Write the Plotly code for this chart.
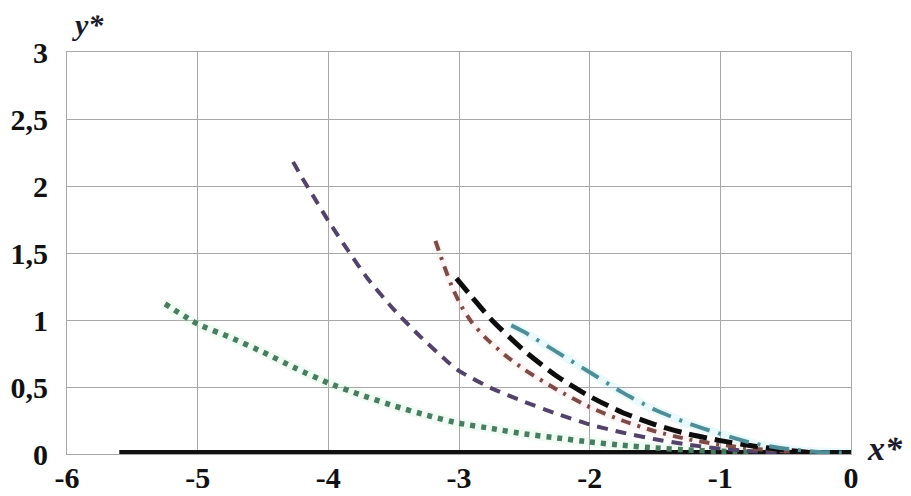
import plotly.graph_objects as go

# ---- data ----
green_x = [-5.25, -5.0, -4.75, -4.5, -4.25, -4.0, -3.75, -3.5, -3.25, -3.0, -2.75, -2.5,
           -2.25, -2.0, -1.75, -1.5, -1.25, -1.0, -0.75]
green_y = [1.12, 0.97, 0.87, 0.76, 0.64, 0.53, 0.44, 0.36, 0.29, 0.23, 0.19, 0.15,
           0.12, 0.09, 0.065, 0.045, 0.03, 0.02, 0.012]

purple_x = [-4.27, -4.2, -4.1, -4.0, -3.85, -3.7, -3.5, -3.3, -3.1, -3.0, -2.75, -2.5,
            -2.25, -2.0, -1.75, -1.5, -1.25, -1.0, -0.75, -0.5]
purple_y = [2.18, 2.06, 1.90, 1.74, 1.52, 1.31, 1.08, 0.88, 0.70, 0.62, 0.49, 0.39,
            0.30, 0.22, 0.16, 0.11, 0.07, 0.04, 0.02, 0.01]

red_x = [-3.18, -3.12, -3.05, -2.98, -2.9, -2.8, -2.65, -2.5, -2.25, -2.0, -1.75, -1.5,
         -1.25, -1.0, -0.75, -0.5, -0.3]
red_y = [1.59, 1.42, 1.24, 1.10, 0.98, 0.87, 0.74, 0.63, 0.48, 0.35, 0.25, 0.17,
         0.11, 0.07, 0.04, 0.02, 0.01]

black_x = [-3.02, -2.9, -2.75, -2.5, -2.25, -2.0, -1.75, -1.5, -1.25, -1.0, -0.75, -0.5, -0.3]
black_y = [1.31, 1.17, 1.00, 0.77, 0.58, 0.43, 0.31, 0.22, 0.15, 0.10, 0.06, 0.03, 0.01]

cyan_x = [-2.6, -2.5, -2.25, -2.0, -1.75, -1.5, -1.25, -1.0, -0.75, -0.5, -0.25, 0.0]
cyan_y = [0.96, 0.91, 0.76, 0.61, 0.46, 0.33, 0.23, 0.15, 0.08, 0.04, 0.015, 0.01]

base_x = [-5.6, 0.0]
base_y = [0.015, 0.015]

x_ticks = [-6, -5, -4, -3, -2, -1, 0]
x_labels = ["-6", "-5", "-4", "-3", "-2", "-1", "0"]
y_ticks = [0, 0.5, 1, 1.5, 2, 2.5, 3]
y_labels = ["0", "0,5", "1", "1,5", "2", "2,5", "3"]

FONT = "Liberation Serif"

fig = go.Figure()

def glow(x, y, color, width):
    fig.add_trace(go.Scatter(x=x, y=y, mode="lines", line=dict(color=color, width=width, shape="spline", smoothing=0.6),
                             hoverinfo="skip", showlegend=False))

# soft halos
glow(green_x, green_y, "rgba(140,225,170,0.14)", 10)
glow(red_x, red_y, "rgba(240,170,170,0.12)", 8)
glow(cyan_x, cyan_y, "rgba(140,225,240,0.18)", 9)

fig.add_trace(go.Scatter(x=base_x, y=base_y, mode="lines",
                         line=dict(color="#111111", width=4), showlegend=False))
fig.add_trace(go.Scatter(x=green_x, y=green_y, mode="lines",
                         line=dict(color="#4a7c62", width=5.5, dash="5px,6px", shape="spline", smoothing=0.6), showlegend=False))
fig.add_trace(go.Scatter(x=purple_x, y=purple_y, mode="lines",
                         line=dict(color="#51436a", width=4, dash="11px,8px", shape="spline", smoothing=0.6), showlegend=False))
fig.add_trace(go.Scatter(x=red_x, y=red_y, mode="lines",
                         line=dict(color="#7e4c48", width=4, dash="10px,7px,3px,7px", shape="spline", smoothing=0.6), showlegend=False))
fig.add_trace(go.Scatter(x=black_x, y=black_y, mode="lines",
                         line=dict(color="#0d0d0d", width=5, dash="18px,8px", shape="spline", smoothing=0.6), showlegend=False))
fig.add_trace(go.Scatter(x=cyan_x, y=cyan_y, mode="lines",
                         line=dict(color="#4f8e96", width=4, dash="20px,9px,3px,9px", shape="spline", smoothing=0.6), showlegend=False))

tickfont = dict(family=FONT, size=30, color="#111111", weight="bold")

fig.update_layout(
    width=903, height=488,
    margin=dict(l=59, r=60, t=44, b=42),
    paper_bgcolor="white", plot_bgcolor="white",
    font=dict(family=FONT, size=28, color="#111111"),
    showlegend=False,
    xaxis=dict(range=[-6, 0], tickvals=x_ticks, ticktext=x_labels, automargin=False,
               showgrid=True, gridcolor="#a8a8a8", gridwidth=1.2, zeroline=False,
               showline=True, linecolor="#a8a8a8", linewidth=1.2, mirror=True,
               ticks="", ticklabelstandoff=-3,
               tickfont=tickfont),
    yaxis=dict(range=[0, 3], tickvals=y_ticks, ticktext=y_labels, automargin=False,
               showgrid=True, gridcolor="#a8a8a8", gridwidth=1.2, zeroline=False,
               showline=True, linecolor="#a8a8a8", linewidth=1.2, mirror=True,
               ticks="", ticklabelstandoff=12,
               tickfont=tickfont),
    annotations=[
        dict(text="<b><i>y*</i></b>", xref="paper", yref="paper", x=0.027, y=1.0,
             xanchor="center", yanchor="bottom", yshift=9, showarrow=False,
             font=dict(family=FONT, size=30, color="#1a1a2a")),
        dict(text="<b><i>x*</i></b>", xref="paper", yref="y", x=1.0, y=0.04,
             xanchor="left", yanchor="middle", xshift=14, showarrow=False,
             font=dict(family=FONT, size=34, color="#1a1a2a")),
    ],
)

fig.write_html("out.html")
